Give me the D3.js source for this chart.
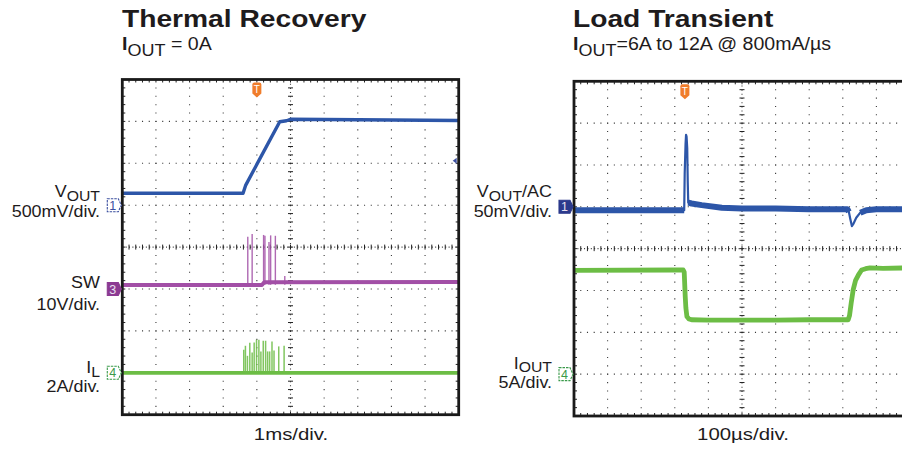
<!DOCTYPE html>
<html><head><meta charset="utf-8">
<script src="https://cdn.jsdelivr.net/npm/d3@7"></script>
<style>
body{margin:0;background:#fff}
svg{display:block}
text{font-family:"Liberation Sans",Arial,Helvetica,sans-serif}
</style>
</head><body>
<svg id="chart" width="902" height="454"></svg>
<script>
// ===== DATA =====
// Left scope: Thermal Recovery, time in ms (1 ms/div, centre = 0)
const thermVoutTime = [-5, -1.41, -1.33, -0.32, -0.12, 0, 5];
const thermVout     = [0.142, 0.142, 0.24, 0.996, 1.008, 1.025, 1.011]; // V, 500 mV/div
const thermSwTime   = [-5, -0.85, -0.78, 5];
const thermSw       = [0.95, 0.95, 1.6, 1.67];                          // V, 10 V/div
const swSpikeTime   = [-1.27, -1.14, -0.80, -0.76, -0.64, -0.59, -0.45, -0.17];
const swSpike       = [12.5, 13.1, 12.9, 12.7, 11.2, 12.8, 12.7, 3.1];
const thermIlTime   = [-5, 5];
const thermIl       = [0, 0];                                           // A, 2 A/div
const ilSpikeTime   = [-1.39, -1.34, -1.28, -1.21, -1.14, -1.08, -1.01, -0.94, -0.88, -0.81, -0.74, -0.68, -0.62, -0.55, -0.49, -0.35, -0.19];
const ilSpike       = [1.10, 1.29, 0.81, 1.43, 0.97, 1.45, 1.58, 1.58, 1.02, 1.53, 1.53, 1.02, 1.02, 1.49, 1.06, 1.26, 1.29];
const thermTrigTime = -1;     // ms
const thermTrigLevel = 0.53;  // V

// Right scope: Load Transient, time in µs (100 µs/div, centre = 0)
const loadVoutTime = [-500, -172, -170.5, -168, -166.5, -165, -163, -161.5, -160, -150, -120, -60, 0, 100, 200, 314, 318, 322, 327, 332, 340, 352, 370, 400, 500];
const loadVout     = [-4, -4, 40, 75, 86, 84, 70, 30, 5, 4, 2, -1, -2, -2, -3, -3, -6, -14, -23, -20, -13, -7, -4, -3, -3]; // mV, 50 mV/div
const loadIoutTime = [-500, -200, -175, -172, -169, -167, -164, -158, -150, -100, 0, 100, 200, 316, 320, 325, 331, 338, 347, 356, 368, 381, 420, 500];
const loadIout     = [12.4, 12.45, 12.45, 12.2, 9.3, 7.9, 6.9, 6.6, 6.5, 6.45, 6.45, 6.45, 6.5, 6.5, 7.0, 8.5, 10.1, 11.2, 11.9, 12.45, 12.6, 12.7, 12.65, 12.7]; // A, 5 A/div
const loadTrigTime = -170;    // µs

// channel settings: offset (divisions from centre), units per division
const chThermVout = {offset: 1, perDiv: 0.5};
const chThermSw   = {offset: -1, perDiv: 10};
const chThermIl   = {offset: -3, perDiv: 2};
const chLoadVout  = {offset: 1, perDiv: 50};
const chLoadIout  = {offset: -3, perDiv: 5};

// ===== DRAWING =====
const svg = d3.select('#chart');
const INK = '#1e1b1c';
const BLUE = '#2d56a8', PURPLE = '#a24fa6', GREEN = '#6cbd45';

function txt(g, x, y, o) {
  const t = g.append('g').attr('transform', `translate(${x},${y}) scale(${o.sx},1)`)
    .append('text').attr('font-size', o.size).attr('text-anchor', o.anchor || 'start')
    .attr('fill', INK);
  let sub = false;
  o.parts.forEach(p => {
    const [s, isSub, bold] = p;
    const ts = t.append('tspan').text(s);
    if (isSub) ts.attr('font-size', o.size * (o.subScale || 0.92));
    if (bold) ts.attr('font-weight', 'bold');
    if (isSub && !sub) ts.attr('dy', o.subDy);
    if (!isSub && sub) ts.attr('dy', -o.subDy);
    sub = isSub;
  });
}

function scope(id, x0, x1, y0, y1, tDomain) {
  const g = svg.append('g');
  const xd = d3.scaleLinear().domain([0, 10]).range([x0, x1]);
  const yd = d3.scaleLinear().domain([-4, 4]).range([y1, y0]);
  const xt = d3.scaleLinear().domain(tDomain).range([x0, x1]);
  const divW = xd(1) - xd(0), divH = yd(0) - yd(1);
  const grid = g.append('g').attr('stroke', '#3a3a3a').attr('stroke-width', 1.1);
  grid.selectAll('.gv').data(d3.range(1, 10).filter(i => i !== 5)).join('line')
    .attr('x1', d => xd(d)).attr('x2', d => xd(d)).attr('y1', y0).attr('y2', y1)
    .attr('stroke-dasharray', `1.1 ${divH / 5 - 1.1}`).attr('stroke-dashoffset', -divH / 5 + 0.5);
  grid.selectAll('.gh').data(d3.range(-3, 4).filter(i => i !== 0)).join('line')
    .attr('y1', d => yd(d)).attr('y2', d => yd(d)).attr('x1', x0).attr('x2', x1)
    .attr('stroke-dasharray', `1.1 ${divW / 5 - 1.1}`).attr('stroke-dashoffset', -divW / 5 + 0.5);
  grid.append('line').attr('x1', xd(5)).attr('x2', xd(5)).attr('y1', y0).attr('y2', y1)
    .attr('stroke-dasharray', `1 ${divH / 10 - 1}`);
  grid.append('line').attr('y1', yd(0)).attr('y2', yd(0)).attr('x1', x0).attr('x2', x1)
    .attr('stroke-dasharray', `1 ${divW / 10 - 1}`);
  const ticks = g.append('g').attr('stroke', '#222').attr('stroke-width', 1);
  const ySub = d3.range(-4 * 5 + 1, 4 * 5).map(i => i / 5);
  const xSub = d3.range(1, 50).map(i => i / 5);
  ticks.selectAll('.cv').data(ySub).join('line')
    .attr('x1', xd(5) - 2.5).attr('x2', xd(5) + 2.5).attr('y1', d => yd(d)).attr('y2', d => yd(d));
  ticks.selectAll('.ch').data(xSub).join('line')
    .attr('y1', yd(0) - 2.5).attr('y2', yd(0) + 2.5).attr('x1', d => xd(d)).attr('x2', d => xd(d));
  ticks.selectAll('.bb').data(xSub).join('line')
    .attr('x1', d => xd(d)).attr('x2', d => xd(d)).attr('y1', y1).attr('y2', y1 - 3);
  ticks.selectAll('.bt').data(xSub).join('line')
    .attr('x1', d => xd(d)).attr('x2', d => xd(d)).attr('y1', y0).attr('y2', y0 + 3);
  ticks.selectAll('.bl').data(ySub).join('line')
    .attr('y1', d => yd(d)).attr('y2', d => yd(d)).attr('x1', x0).attr('x2', x0 + 3);
  ticks.selectAll('.br').data(ySub).join('line')
    .attr('y1', d => yd(d)).attr('y2', d => yd(d)).attr('x1', x1).attr('x2', x1 - 3);

  g.append('clipPath').attr('id', 'clip' + id).append('rect')
    .attr('x', x0).attr('y', y0).attr('width', x1 - x0).attr('height', y1 - y0);
  const traces = g.append('g').attr('clip-path', `url(#clip${id})`);
  g.append('rect').attr('x', x0).attr('y', y0).attr('width', x1 - x0).attr('height', y1 - y0)
    .attr('fill', 'none').attr('stroke', '#1a1a1a').attr('stroke-width', 2.8);
  return {g, xd, yd, xt, traces, x0, x1, y0, y1};
}

function chScale(sc, ch) {
  return v => sc.yd(ch.offset + v / ch.perDiv);
}

function trace(sc, ch, ts, vs, color, width, defined) {
  const y = chScale(sc, ch);
  const line = d3.line().x(d => sc.xt(d[0])).y(d => y(d[1]));
  if (defined) line.defined(defined);
  sc.traces.append('path').datum(ts.map((t, i) => [t, vs[i]]))
    .attr('d', line).attr('fill', 'none').attr('stroke', color)
    .attr('stroke-width', width).attr('stroke-linejoin', 'round');
}

function spikes(sc, ch, ts, vs, base, color, width) {
  const y = chScale(sc, ch);
  sc.traces.selectAll(null).data(ts.map((t, i) => [t, vs[i]])).join('line')
    .attr('x1', d => sc.xt(d[0])).attr('x2', d => sc.xt(d[0]))
    .attr('y1', y(base)).attr('y2', d => y(d[1]))
    .attr('stroke', color).attr('stroke-width', width).attr('opacity', 0.85);
}

function marker(sc, ch, label, color, filled) {
  const yc = sc.yd(ch.offset), x = sc.x0;
  const g = sc.g.append('g');
  const pts = [[x - 15, yc - 6.5], [x - 4, yc - 6.5], [x - 1, yc], [x - 4, yc + 6.5], [x - 15, yc + 6.5]];
  g.append('path').attr('d', d3.line()(pts) + 'Z')
    .attr('fill', filled ? color : '#fff').attr('stroke', color).attr('stroke-width', 1.1)
    .attr('stroke-dasharray', filled ? null : '2.5 1');
  g.append('text').attr('x', x - 9.5).attr('y', yc + 4.5).attr('text-anchor', 'middle')
    .attr('font-size', 12.5).attr('fill', filled ? '#e8e0f0' : color).text(label);
}

function trigMarker(sc, t) {
  const x = sc.xt(t), y = sc.y0 + 3;
  const g = sc.g.append('g');
  g.append('path').attr('d', `M${x - 4.5},${y + 2} Q${x - 4.5},${y} ${x - 2.5},${y} L${x + 2.5},${y} Q${x + 4.5},${y} ${x + 4.5},${y + 2} L${x + 4.5},${y + 11} L${x},${y + 15} L${x - 4.5},${y + 11} Z`)
    .attr('fill', '#f07d2c');
  g.append('text').attr('x', x).attr('y', y + 10.5).attr('text-anchor', 'middle')
    .attr('font-size', 10).attr('fill', '#fff').text('T');
}

// ---- Left scope ----
const L = scope('L', 122.3, 458.7, 79.5, 414.7, [-5, 5]);
trace(L, chThermVout, thermVoutTime, thermVout, BLUE, 3.4);
spikes(L, chThermSw, swSpikeTime, swSpike, 1, PURPLE, 1.4);
trace(L, chThermSw, thermSwTime, thermSw, PURPLE, 4);
spikes(L, chThermIl, ilSpikeTime, ilSpike, 0, GREEN, 1.5);
trace(L, chThermIl, thermIlTime, thermIl, GREEN, 3.8);
marker(L, chThermVout, '1', '#3b4f9f', false);
marker(L, chThermSw, '3', '#8c3a92', true);
marker(L, chThermIl, '4', '#3a9a4a', false);
trigMarker(L, thermTrigTime);
{
  const yl = chScale(L, chThermVout)(thermTrigLevel);
  L.g.append('path').attr('d', `M${L.x1 - 6},${yl} L${L.x1 - 2},${yl - 3} L${L.x1 - 2},${yl + 3} Z`).attr('fill', '#3b4f9f');
}

// ---- Right scope ----
const R = scope('R', 574, 910, 81.3, 416, [-500, 500]);
trace(R, chLoadVout, loadVoutTime, loadVout, BLUE, 6, d => Math.abs(d[1]) < 8);
trace(R, chLoadVout, loadVoutTime, loadVout, BLUE, 2.2);
trace(R, chLoadIout, loadIoutTime, loadIout, GREEN, 4.8);
marker(R, chLoadVout, '1', '#2c3a8c', true);
marker(R, chLoadIout, '4', '#3a9a4a', false);
trigMarker(R, loadTrigTime);

// ---- Text ----
const T = svg.append('g');
txt(T, 122, 27, {size: 23.5, sx: 1.2, parts: [['Thermal Recovery', false, true]]});
txt(T, 122, 50, {size: 17.5, sx: 1.12, subDy: 6, parts: [['I', false, true], ['OUT', true], [' = 0A', false]]});
txt(T, 573, 27, {size: 23.5, sx: 1.2, parts: [['Load Transient', false, true]]});
txt(T, 573, 50, {size: 17.5, sx: 1.12, subDy: 6, parts: [['I', false, true], ['OUT', true], ['=6A to 12A @ 800mA/µs', false]]});

const cl = {size: 16.3, sx: 1.1, anchor: 'end', subDy: 4.5, subScale: 0.88};
txt(T, 100, 196.5, {...cl, parts: [['V', false], ['OUT', true]]});
txt(T, 100, 217, {...cl, parts: [['500mV/div.', false]]});
txt(T, 100, 288.3, {...cl, parts: [['SW', false]]});
txt(T, 100, 310, {...cl, parts: [['10V/div.', false]]});
txt(T, 100, 372.5, {...cl, parts: [['I', false], ['L', true]]});
txt(T, 100, 392, {...cl, parts: [['2A/div.', false]]});

txt(T, 552, 196.5, {...cl, parts: [['V', false], ['OUT', true], ['/AC', false]]});
txt(T, 552, 217, {...cl, parts: [['50mV/div.', false]]});
txt(T, 552, 368.5, {...cl, subDy: 3, parts: [['I', false], ['OUT', true]]});
txt(T, 552, 387.5, {...cl, parts: [['5A/div.', false]]});

txt(T, 291, 440, {size: 17, sx: 1.2, anchor: 'middle', parts: [['1ms/div.', false]]});
txt(T, 743, 440, {size: 17, sx: 1.2, anchor: 'middle', parts: [['100µs/div.', false]]});
</script>
</body></html>
